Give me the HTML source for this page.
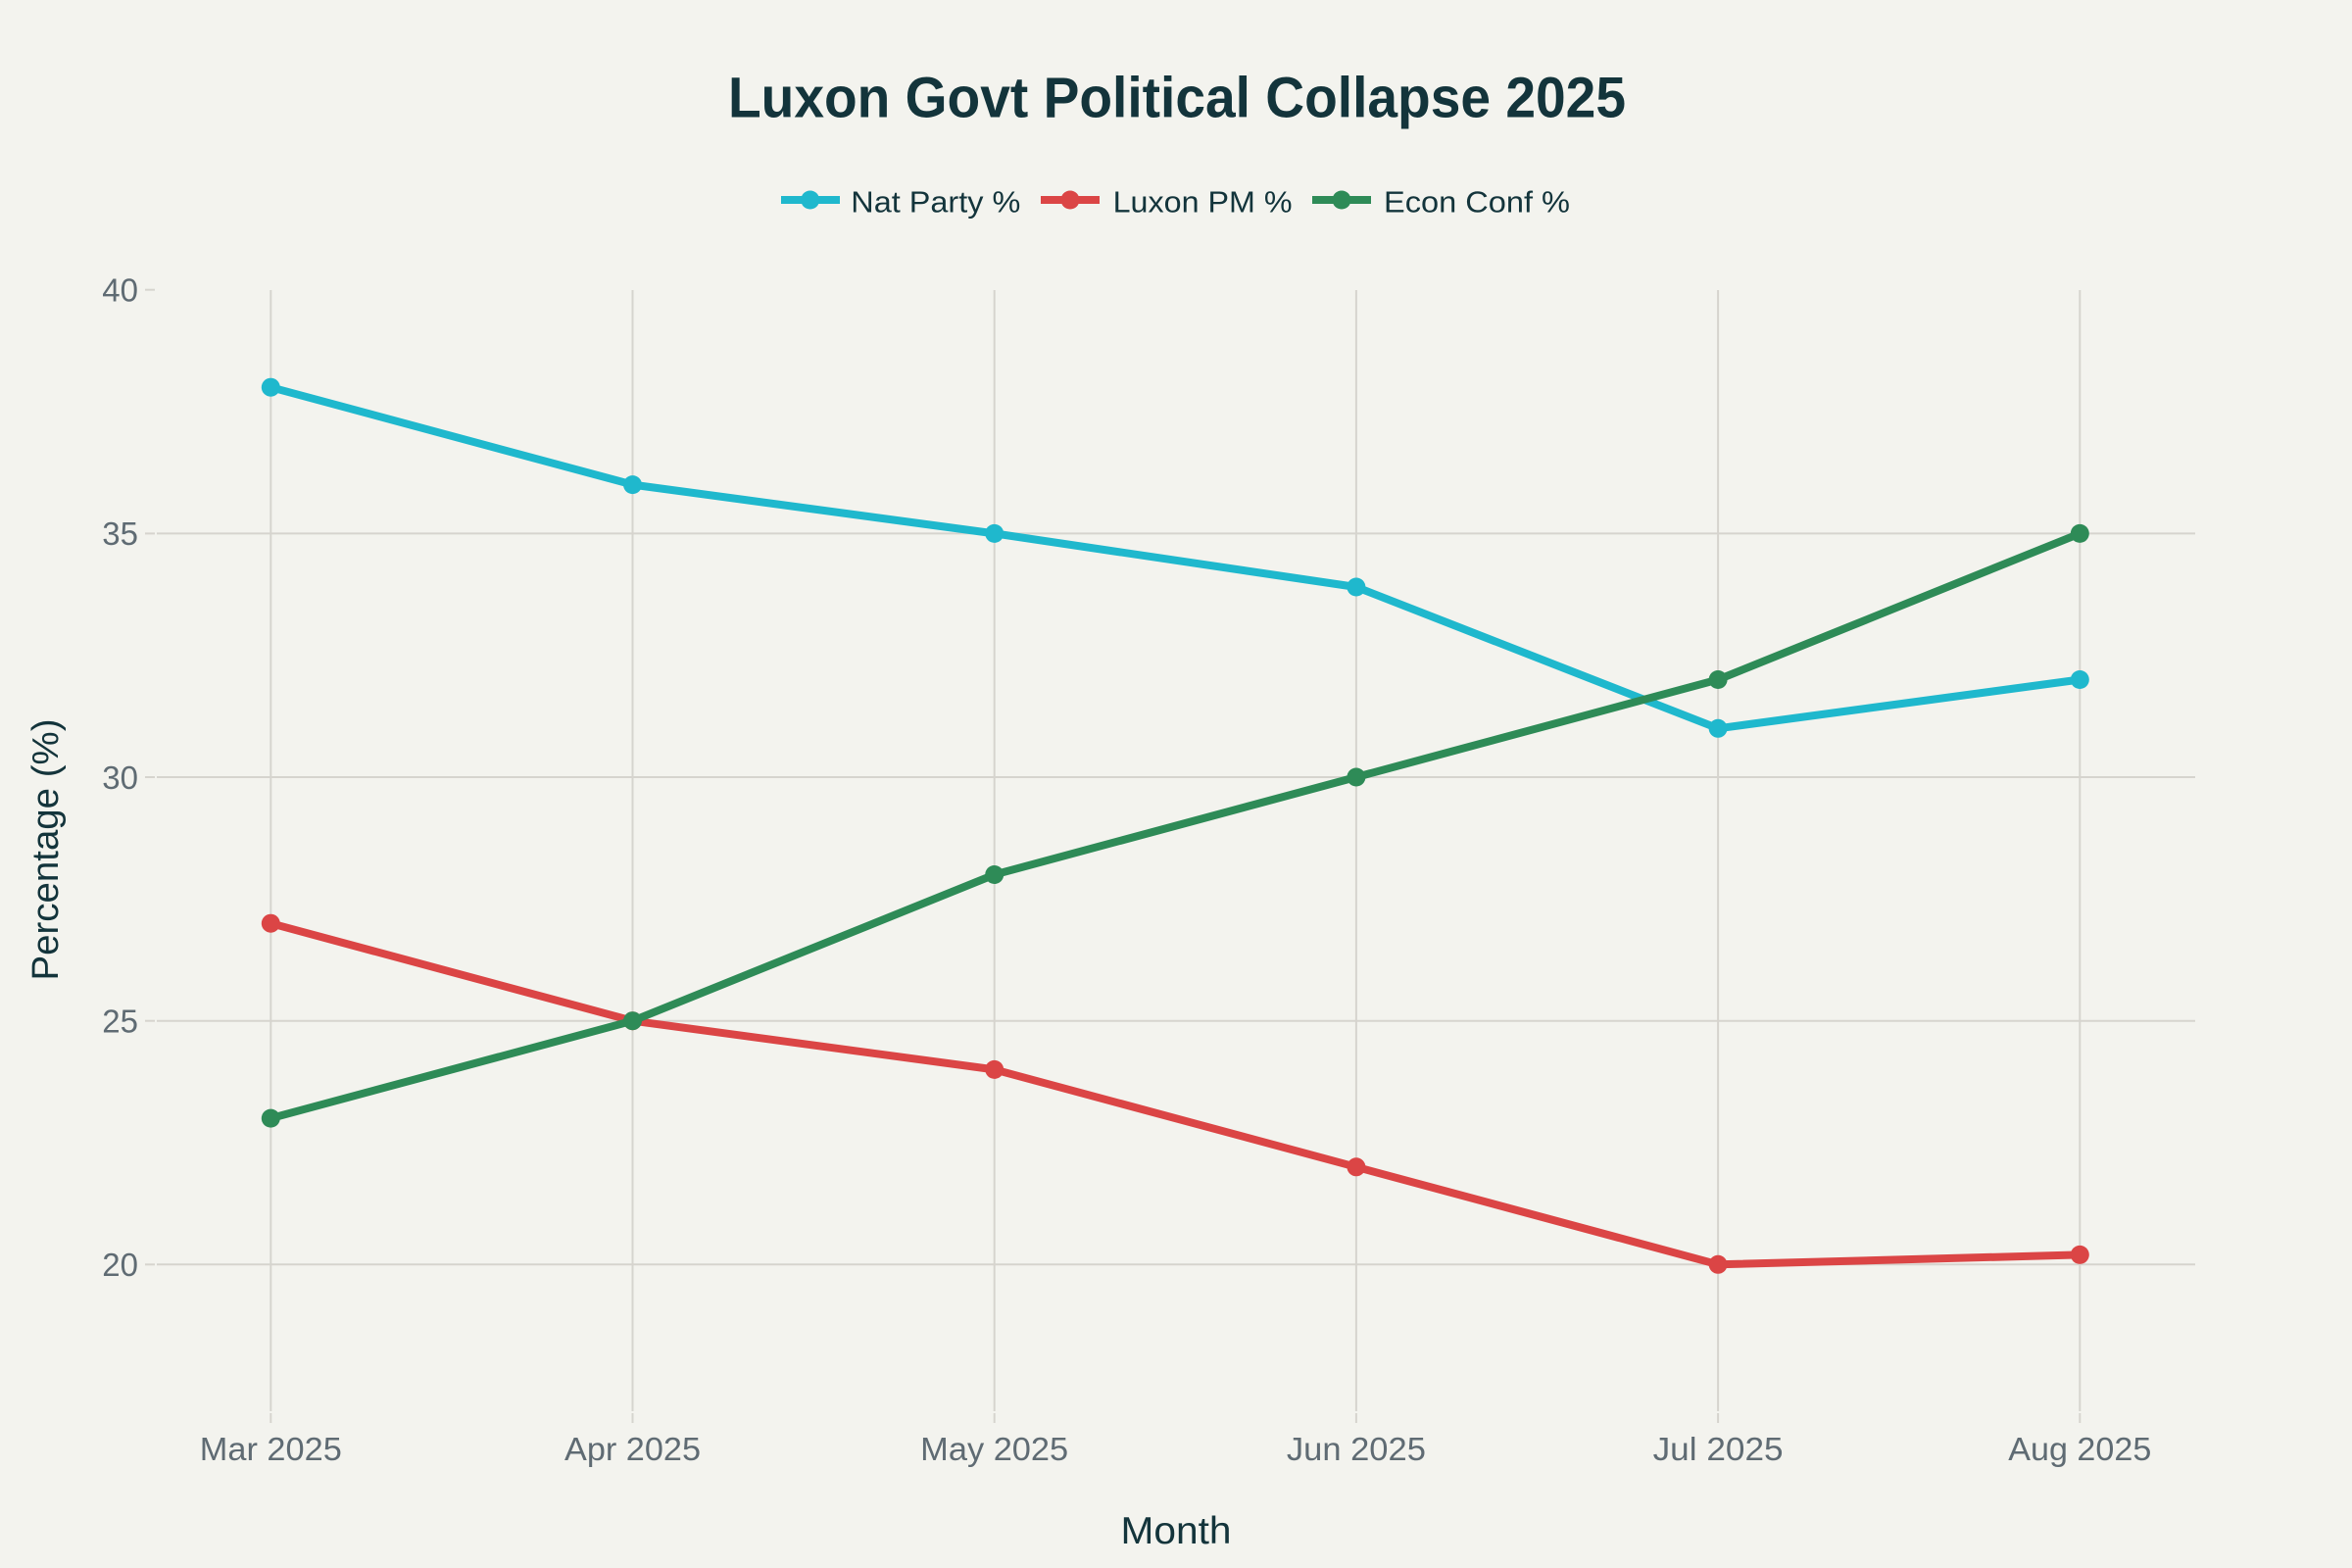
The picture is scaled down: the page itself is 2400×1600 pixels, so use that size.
<!DOCTYPE html>
<html>
<head>
<meta charset="utf-8">
<style>
html,body{margin:0;padding:0;background:#F3F3EE;}
svg{display:block;}
text{font-family:"Liberation Sans",sans-serif;}
</style>
</head>
<body>
<svg width="2400" height="1600" viewBox="0 0 2400 1600" xmlns="http://www.w3.org/2000/svg">
<rect x="0" y="0" width="2400" height="1600" fill="#F3F3EE"/>

<!-- gridlines -->
<g stroke="#D6D4CE" stroke-width="2" fill="none">
  <line x1="160" y1="544.4" x2="2240" y2="544.4"/>
  <line x1="160" y1="793.0" x2="2240" y2="793.0"/>
  <line x1="160" y1="1041.7" x2="2240" y2="1041.7"/>
  <line x1="160" y1="1290.3" x2="2240" y2="1290.3"/>
  <line x1="276.3" y1="296" x2="276.3" y2="1440"/>
  <line x1="645.5" y1="296" x2="645.5" y2="1440"/>
  <line x1="1014.7" y1="296" x2="1014.7" y2="1440"/>
  <line x1="1383.9" y1="296" x2="1383.9" y2="1440"/>
  <line x1="1753.1" y1="296" x2="1753.1" y2="1440"/>
  <line x1="2122.3" y1="296" x2="2122.3" y2="1440"/>
</g>
<!-- ticks -->
<g stroke="#D6D4CE" stroke-width="2">
  <line x1="148" y1="295.7" x2="158" y2="295.7"/>
  <line x1="148" y1="544.4" x2="158" y2="544.4"/>
  <line x1="148" y1="793.0" x2="158" y2="793.0"/>
  <line x1="148" y1="1041.7" x2="158" y2="1041.7"/>
  <line x1="148" y1="1290.3" x2="158" y2="1290.3"/>
  <line x1="276.3" y1="1442" x2="276.3" y2="1452"/>
  <line x1="645.5" y1="1442" x2="645.5" y2="1452"/>
  <line x1="1014.7" y1="1442" x2="1014.7" y2="1452"/>
  <line x1="1383.9" y1="1442" x2="1383.9" y2="1452"/>
  <line x1="1753.1" y1="1442" x2="1753.1" y2="1452"/>
  <line x1="2122.3" y1="1442" x2="2122.3" y2="1452"/>
</g>

<!-- y tick labels -->
<g fill="#5F6B73" font-size="33" text-anchor="end">
  <text x="141" y="307.5">40</text>
  <text x="141" y="556.2">35</text>
  <text x="141" y="804.8">30</text>
  <text x="141" y="1053.5">25</text>
  <text x="141" y="1302.1">20</text>
</g>
<!-- x tick labels -->
<g fill="#5F6B73" font-size="33" text-anchor="middle">
  <text x="276.3" y="1490" textLength="145" lengthAdjust="spacingAndGlyphs">Mar 2025</text>
  <text x="645.5" y="1490" textLength="139" lengthAdjust="spacingAndGlyphs">Apr 2025</text>
  <text x="1014.7" y="1490" textLength="151" lengthAdjust="spacingAndGlyphs">May 2025</text>
  <text x="1383.9" y="1490" textLength="142" lengthAdjust="spacingAndGlyphs">Jun 2025</text>
  <text x="1753.1" y="1490" textLength="133" lengthAdjust="spacingAndGlyphs">Jul 2025</text>
  <text x="2122.3" y="1490" textLength="146" lengthAdjust="spacingAndGlyphs">Aug 2025</text>
</g>

<!-- axis titles -->
<text x="1200" y="1575" fill="#13343B" font-size="39" text-anchor="middle" textLength="113" lengthAdjust="spacingAndGlyphs">Month</text>
<text transform="translate(59,867) rotate(-90)" x="0" y="0" fill="#13343B" font-size="38" text-anchor="middle" textLength="267" lengthAdjust="spacingAndGlyphs">Percentage (%)</text>

<!-- title -->
<text x="1201" y="119.3" fill="#13343B" font-size="58" font-weight="bold" text-anchor="middle" textLength="916" lengthAdjust="spacingAndGlyphs">Luxon Govt Political Collapse 2025</text>

<!-- legend -->
<g stroke-width="8" fill="none">
  <line x1="797" y1="204" x2="857" y2="204" stroke="#1FB8CD"/>
  <line x1="1062" y1="204" x2="1122" y2="204" stroke="#DB4545"/>
  <line x1="1339" y1="204" x2="1399" y2="204" stroke="#2E8B57"/>
</g>
<circle cx="826.7" cy="204" r="9.5" fill="#1FB8CD"/>
<circle cx="1092" cy="204" r="9.5" fill="#DB4545"/>
<circle cx="1369" cy="204" r="9.5" fill="#2E8B57"/>
<g fill="#13343B" font-size="31">
  <text x="868.3" y="216.7" textLength="173" lengthAdjust="spacingAndGlyphs">Nat Party %</text>
  <text x="1135.6" y="216.7" textLength="183" lengthAdjust="spacingAndGlyphs">Luxon PM %</text>
  <text x="1412" y="216.7" textLength="190" lengthAdjust="spacingAndGlyphs">Econ Conf %</text>
</g>

<!-- series: Nat Party -->
<polyline fill="none" stroke="#1FB8CD" stroke-width="8" stroke-linejoin="round"
  points="276.3,395.2 645.5,494.6 1014.7,544.4 1383.9,599.0 1753.1,743.3 2122.3,693.5"/>
<g fill="#1FB8CD">
  <circle cx="276.3" cy="395.2" r="9.5"/>
  <circle cx="645.5" cy="494.6" r="9.5"/>
  <circle cx="1014.7" cy="544.4" r="9.5"/>
  <circle cx="1383.9" cy="599.0" r="9.5"/>
  <circle cx="1753.1" cy="743.3" r="9.5"/>
  <circle cx="2122.3" cy="693.5" r="9.5"/>
</g>

<!-- series: Luxon PM -->
<polyline fill="none" stroke="#DB4545" stroke-width="8" stroke-linejoin="round"
  points="276.3,942.2 645.5,1041.7 1014.7,1091.4 1383.9,1190.8 1753.1,1290.3 2122.3,1280.4"/>
<g fill="#DB4545">
  <circle cx="276.3" cy="942.2" r="9.5"/>
  <circle cx="645.5" cy="1041.7" r="9.5"/>
  <circle cx="1014.7" cy="1091.4" r="9.5"/>
  <circle cx="1383.9" cy="1190.8" r="9.5"/>
  <circle cx="1753.1" cy="1290.3" r="9.5"/>
  <circle cx="2122.3" cy="1280.4" r="9.5"/>
</g>

<!-- series: Econ Conf -->
<polyline fill="none" stroke="#2E8B57" stroke-width="8" stroke-linejoin="round"
  points="276.3,1141.1 645.5,1041.7 1014.7,892.5 1383.9,793.0 1753.1,693.5 2122.3,544.4"/>
<g fill="#2E8B57">
  <circle cx="276.3" cy="1141.1" r="9.5"/>
  <circle cx="645.5" cy="1041.7" r="9.5"/>
  <circle cx="1014.7" cy="892.5" r="9.5"/>
  <circle cx="1383.9" cy="793.0" r="9.5"/>
  <circle cx="1753.1" cy="693.5" r="9.5"/>
  <circle cx="2122.3" cy="544.4" r="9.5"/>
</g>
</svg>
</body>
</html>
